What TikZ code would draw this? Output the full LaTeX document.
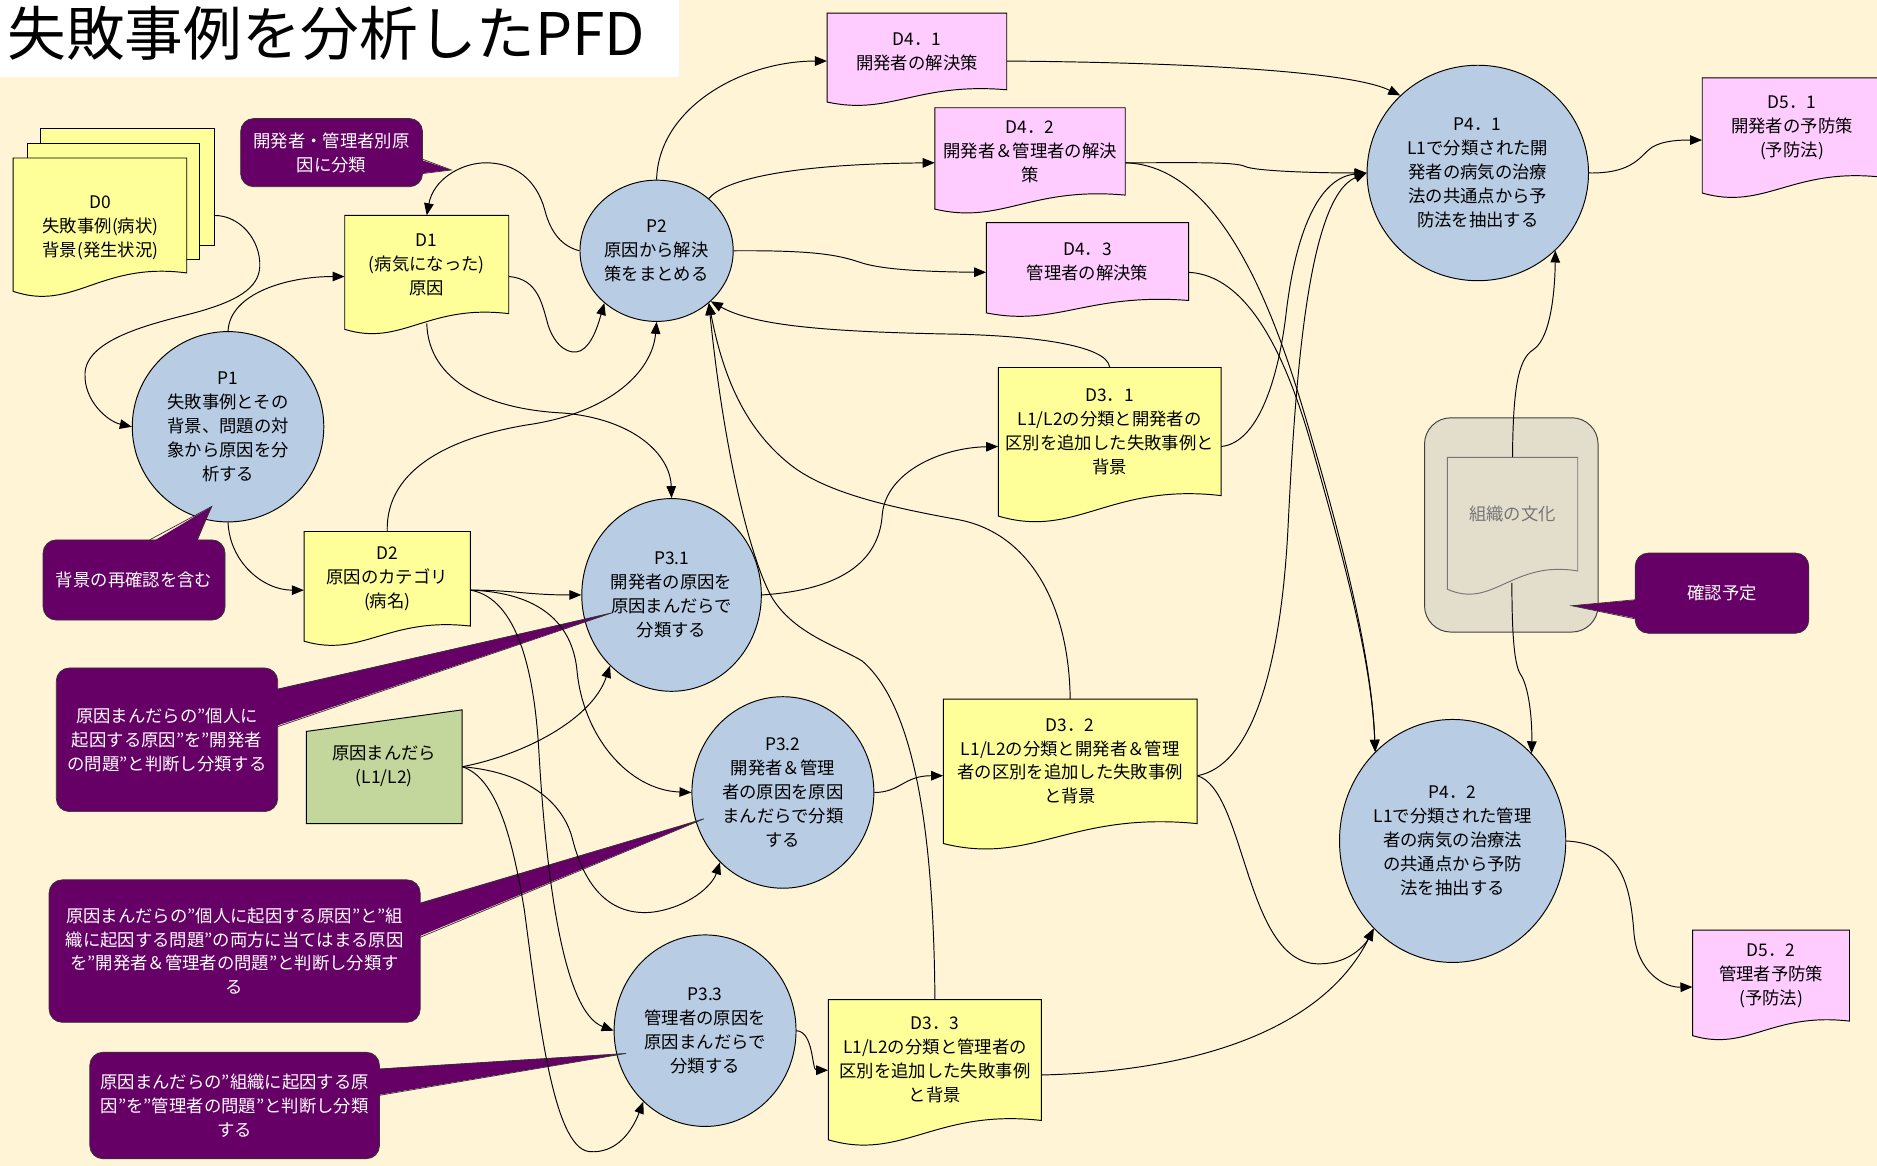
\documentclass[tikz,border=0pt]{standalone}
\usepackage{fontspec}
\setmainfont{Noto Sans CJK JP}
\usetikzlibrary{shapes.geometric,arrows.meta,calc}

\definecolor{bg}{RGB}{255,244,214}
\definecolor{procblue}{RGB}{184,204,228}
\definecolor{docyellow}{RGB}{255,255,153}
\definecolor{docpink}{RGB}{255,204,255}
\definecolor{mandgreen}{RGB}{195,214,155}
\definecolor{notepurple}{RGB}{102,0,102}
\definecolor{orgbeige}{RGB}{227,221,203}
\definecolor{orggrey}{RGB}{118,118,118}

\tikzset{
  base/.style={font=\fontsize{14.5}{20}\selectfont, align=center, inner sep=0pt},
  proc/.style={base, ellipse, draw=black, line width=0.8pt, fill=procblue},
  doctext/.style={base, rectangle},
  stackrect/.style={rectangle, draw=black, line width=0.8pt, fill=docyellow, inner sep=0pt},
  flow/.style={draw=black, line width=0.8pt, -{Triangle[length=10pt,width=8pt]}},
  notebox/.style={base, text=white, fill=notepurple, draw=black!80, line width=0.6pt, rounded corners=11pt},
  noteedge/.style={draw=black!80, line width=0.6pt},
}

% [draw opts]{name}{x1}{y1}{x2}{y2}{fill}{text}
\newcommand\docshape[8][draw=black]{%
  \pgfmathsetmacro\docW{#5-#3}%
  \pgfmathsetmacro\docH{#6-#4}%
  \filldraw[fill=#7,line width=0.8pt,#1] (#3,#4) -- (#5,#4) -- (#5,#6)
    .. controls ({#3+0.5*\docW},{#6-0.1*\docH}) and ({#3+0.35*\docW},{#6+0.34*\docH}) .. (#3,{#6+0.16*\docH}) -- cycle;
  \node[doctext,minimum width={\docW*1pt},minimum height={\docH*1pt}] (#2) at ({(#3+#5)/2},{(#4+#6)/2}) {#8};
}

\begin{document}
\begin{tikzpicture}[x=1pt,y=-1pt]
\useasboundingbox (0,0) rectangle (1568,974);
\clip (0,0) rectangle (1568,974);
\fill[bg] (0,0) rectangle (1568,974);

% title
\fill[white] (0,0) rectangle (567,64);
\node[anchor=west,inner sep=0pt,font=\fontsize{49}{52}\selectfont] (title) at (6,28) {失敗事例を分析したPFD};

% D0 stack
\node[stackrect,minimum width=145pt,minimum height=98pt] (d0a) at (106.5,156) {};
\node[stackrect,minimum width=144pt,minimum height=97pt] (d0b) at (95,168.5) {};
\docshape{d0f}{11}{132}{156}{228}{docyellow}{}
\node[doctext] (d0) at (84,190) {D0\\失敗事例(病状)\\背景(発生状況)};

% documents
\docshape{d1}{288}{180}{425}{262}{docyellow}{D1\\(病気になった)\\原因}
\docshape{d2}{254}{444}{393}{523}{docyellow}{D2\\原因のカテゴリ\\(病名)}
\docshape{d31}{834}{307}{1020}{414}{docyellow}{D3．1\\L1/L2の分類と開発者の\\区別を追加した失敗事例と\\背景}
\docshape{d32}{788}{584}{1000}{688}{docyellow}{D3．2\\L1/L2の分類と開発者＆管理\\者の区別を追加した失敗事例\\と背景}
\docshape{d33}{692}{835}{870}{936}{docyellow}{D3．3\\L1/L2の分類と管理者の\\区別を追加した失敗事例\\と背景}
\docshape{d41}{691}{11}{841}{75}{docpink}{D4．1\\開発者の解決策}
\docshape{d42}{781}{90}{940}{163}{docpink}{D4．2\\開発者＆管理者の解決\\策}
\docshape{d43}{824}{186}{993}{251}{docpink}{D4．3\\管理者の解決策}
\docshape{d51}{1422}{65}{1572}{148}{docpink}{D5．1\\開発者の予防策\\(予防法)}
\docshape{d52}{1414}{777}{1545}{853}{docpink}{D5．2\\管理者予防策\\(予防法)}

% processes
\node[proc,minimum width=160pt,minimum height=159pt] (p1) at (190.5,356.5) {P1\\失敗事例とその\\背景、問題の対\\象から原因を分\\析する};
\node[proc,minimum width=128pt,minimum height=118pt] (p2) at (548.5,209.5) {P2\\原因から解決\\策をまとめる};
\node[proc,minimum width=150pt,minimum height=161pt] (p31) at (561,497) {P3.1\\開発者の原因を\\原因まんだらで\\分類する};
\node[proc,minimum width=152pt,minimum height=160pt] (p32) at (654,662) {P3.2\\開発者＆管理\\者の原因を原因\\まんだらで分類\\する};
\node[proc,minimum width=152pt,minimum height=160pt] (p33) at (589,861) {P3.3\\管理者の原因を\\原因まんだらで\\分類する};
\node[proc,minimum width=185pt,minimum height=180pt] (p41) at (1234.5,144.5) {P4．1\\L1で分類された開\\発者の病気の治療\\法の共通点から予\\防法を抽出する};
\node[proc,minimum width=189pt,minimum height=203pt] (p42) at (1213.5,702.5) {P4．2\\L1で分類された管理\\者の病気の治療法\\の共通点から予防\\法を抽出する};

% mandala (manual input)
\filldraw[fill=mandgreen,line width=0.8pt] (256,611) -- (386,593) -- (386,688) -- (256,688) -- cycle;
\node[doctext,minimum width=130pt,minimum height=95pt] (mand) at (321,640.5) {原因まんだら\\(L1/L2)};

% organisation culture
\node[draw=black!75,fill=orgbeige,line width=0.8pt,rounded corners=22pt,minimum width=145pt,minimum height=179pt,inner sep=0pt] (orgbox) at (1262.5,438.5) {};
\docshape[draw=orggrey]{org}{1209}{382}{1318}{477}{orgbeige}{\textcolor{orggrey}{組織の文化}}
\coordinate (orgb) at (1263,487);

% callouts
\node[notebox,minimum width=152pt,minimum height=57pt] (c1) at (277,127.5) {開発者・管理者別原\\因に分類};
\fill[notepurple] (350,133) -- (377,142) -- (350,145) -- cycle;
\draw[noteedge] (353,133) -- (377,142) -- (353,145);

\node[notebox,minimum width=152pt,minimum height=67pt] (c2) at (112,484.5) {背景の再確認を含む};
\fill[notepurple] (125,454) -- (177,423) -- (164,454) -- cycle;
\draw[noteedge] (125,451) -- (177,423) -- (164,451);

\node[notebox,minimum width=185pt,minimum height=120pt] (c3) at (139.5,618) {原因まんだらの”個人に\\起因する原因”を”開発者\\の問題”と判断し分類する};
\fill[notepurple] (229,576) -- (511,512) -- (229,607) -- cycle;
\draw[noteedge] (232,576) -- (511,512) -- (232,607);

\node[notebox,minimum width=310pt,minimum height=119pt] (c4) at (196,794.5) {原因まんだらの”個人に起因する原因”と”組\\織に起因する問題”の両方に当てはまる原因\\を”開発者＆管理者の問題”と判断し分類す\\る};
\fill[notepurple] (348,755) -- (588,684) -- (348,783) -- cycle;
\draw[noteedge] (351,755) -- (588,684) -- (351,783);

\node[notebox,minimum width=242pt,minimum height=89pt] (c5) at (196,923.5) {原因まんだらの”組織に起因する原\\因”を”管理者の問題”と判断し分類\\する};
\fill[notepurple] (314,893) -- (523,880) -- (314,915) -- cycle;
\draw[noteedge] (317,893) -- (523,880) -- (317,915);

\node[notebox,minimum width=145pt,minimum height=67pt] (c6) at (1438.5,495.5) {確認予定};
\fill[notepurple] (1369,501) -- (1313,506) -- (1369,517) -- cycle;
\draw[noteedge] (1366,501) -- (1313,506) -- (1366,517);

% connectors
\draw[flow] ([yshift=-24pt]d0a.east) .. controls (200,180) and (218,200) .. (217,223) .. controls (216,240) and (200,252) .. (156,263) .. controls (120,272) and (72,285) .. (71,312) .. controls (70,335) and (90,352) .. (p1.west);
\draw[flow] (p1.north) .. controls (192,245) and (240,231) .. ([yshift=-10pt]d1.west);
\draw[flow] ([yshift=-10pt]d1.east) .. controls (450,233) and (453,255) .. (458,272) .. controls (464,290) and (476,297) .. (485,293) .. controls (495,288) and (500,270) .. (p2.225);
\draw[flow] (p2.west) .. controls (470,206) and (460,195) .. (455,175) .. controls (448,150) and (430,136) .. (406,136) .. controls (385,136) and (362,150) .. (d1.north);
\draw[flow] (p2.north) .. controls (550,90) and (620,51) .. ([yshift=-8pt]d41.west);
\draw[flow] (p2.45) .. controls (605,150) and (660,137) .. ([yshift=-9.5pt]d42.west);
\draw[flow] (p2.east) .. controls (680,209) and (700,213) .. (718,219) .. controls (735,225) and (770,227) .. ([yshift=-9pt]d43.west);
\draw[flow] ([yshift=-8pt]d41.east) .. controls (970,52) and (1125,58) .. (p41.135);
\draw[flow] ([yshift=-9.5pt]d42.east) .. controls (990,136) and (1032,135) .. (1040,139) .. controls (1048,143) and (1100,144.5) .. (p41.west);
\draw[flow] ([yshift=-9.5pt]d42.east) .. controls (1010,138) and (1055,230) .. (1088,340) .. controls (1118,440) and (1146,545) .. (p42.131);
\draw[flow] ([yshift=-9pt]d43.east) .. controls (1040,230) and (1072,290) .. (1095,370) .. controls (1125,475) and (1146,555) .. (p42.131);
\draw[flow] ([yshift=-12.5pt]d31.east) .. controls (1050,370) and (1067,320) .. (1074,265) .. controls (1083,185) and (1105,148) .. (p41.west);
\draw[flow] ([yshift=-12pt]d32.east) .. controls (1045,640) and (1070,560) .. (1076,440) .. controls (1082,320) and (1092,165) .. (p41.west);
\draw[flow] ([yshift=-12pt]d32.east) .. controls (1040,660) and (1040,800) .. (1098,805) .. controls (1125,807) and (1140,790) .. (p42.228);
\draw[flow] ([yshift=-12.5pt]d33.east) .. controls (1000,895) and (1105,860) .. (p42.228);
\draw[flow] (p42.east) .. controls (1355,705) and (1362,740) .. (1365,780) .. controls (1368,812) and (1390,825) .. ([yshift=-9.5pt]d52.west);
\draw[flow] (p41.east) .. controls (1365,145) and (1370,130) .. (1380,123) .. controls (1390,117) and (1405,117) .. ([yshift=-10.5pt]d51.west);
\draw[flow] (org.north) .. controls (1264,325) and (1268,300) .. (1281,292) .. controls (1296,282) and (1299,240) .. (p41.-45);
\draw[flow] (orgb) .. controls (1263,530) and (1265,555) .. (1270,563) .. controls (1277,573) and (1280,600) .. (p42.48);
\draw[flow] (d31.north) .. controls (925,288) and (860,280) .. (790,279) .. controls (690,277) and (630,272) .. (p2.-43);
\draw[flow] (d32.north) .. controls (893,505) and (860,445) .. (800,434) .. controls (745,424) and (690,412) .. (660,388) .. controls (625,360) and (605,320) .. (p2.-45);
\draw[flow] (d33.north) .. controls (780,700) and (765,590) .. (720,552) .. controls (700,540) and (665,530) .. (646,501) .. controls (628,472) and (605,380) .. (p2.-45);
\draw[flow] (p31.east) .. controls (715,492) and (735,460) .. (737,430) .. controls (740,395) and (785,374) .. ([yshift=-12.5pt]d31.west);
\draw[flow] (p32.east) .. controls (752,662) and (755,648) .. ([yshift=-12pt]d32.west);
\draw[flow] (p33.east) .. controls (680,862) and (678,894) .. ([yshift=-8.5pt]d33.west);
\draw[flow] ([yshift=-8pt]d1.south) .. controls (358,320) and (410,342) .. (470,345) .. controls (530,350) and (560,380) .. (p31.north);
\draw[flow] (d2.north) .. controls (322,390) and (380,365) .. (440,355) .. controls (510,345) and (545,310) .. (p2.south);
\draw[flow] (p1.south) .. controls (192,470) and (220,493) .. ([yshift=-9.5pt]d2.west);
\draw[flow] ([yshift=-9.5pt]d2.east) .. controls (430,493) and (440,497) .. (p31.west);
\draw[flow] ([yshift=-9.5pt]d2.east) .. controls (450,495) and (478,520) .. (482,560) .. controls (487,615) and (525,660) .. (p32.west);
\draw[flow] ([yshift=-9.5pt]d2.east) .. controls (432,500) and (446,560) .. (450,625) .. controls (456,730) and (470,845) .. (p33.west);
\draw[flow] (mand.east) .. controls (440,630) and (495,600) .. (p31.229);
\draw[flow] (mand.east) .. controls (440,645) and (470,670) .. (478,700) .. controls (490,748) and (515,765) .. (545,762) .. controls (575,758) and (595,740) .. (p32.228);
\draw[flow] (mand.east) .. controls (415,650) and (428,700) .. (438,760) .. controls (450,850) and (462,958) .. (492,962) .. controls (515,964) and (528,945) .. (p33.229);
\end{tikzpicture}
\end{document}
